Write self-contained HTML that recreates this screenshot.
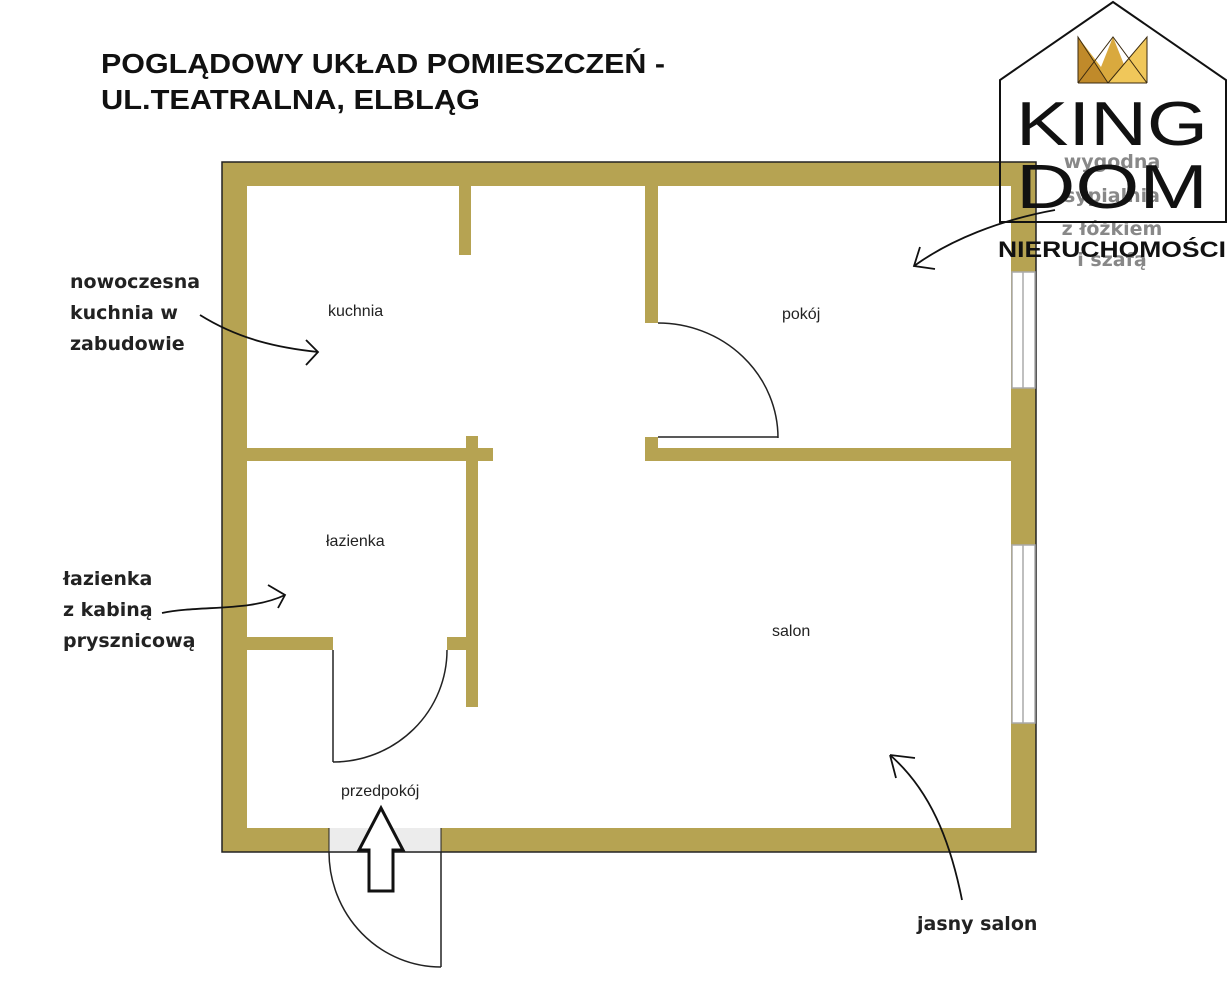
<!DOCTYPE html>
<html><head><meta charset="utf-8"><style>
html,body{margin:0;padding:0;background:#fff;}
svg{display:block;}
</style></head><body>
<svg width="1227" height="1000" viewBox="0 0 1227 1000" xmlns="http://www.w3.org/2000/svg" font-family="Liberation Sans, DejaVu Sans, sans-serif">
<rect width="1227" height="1000" fill="#fff"/>
<!-- title -->
<text x="101" y="73" font-size="28" font-weight="bold" fill="#111" textLength="564" lengthAdjust="spacingAndGlyphs">POGLĄDOWY UKŁAD POMIESZCZEŃ -</text>
<text x="101" y="109" font-size="28" font-weight="bold" fill="#111" textLength="379" lengthAdjust="spacingAndGlyphs">UL.TEATRALNA, ELBLĄG</text>

<g fill="#b6a352">
<rect x="222" y="162" width="814" height="24"/>
<rect x="222" y="162" width="25" height="690"/>
<rect x="1011" y="162" width="25" height="690"/>
<rect x="222" y="828" width="814" height="24"/>
<rect x="459" y="186" width="12" height="69"/>
<rect x="645" y="186" width="13" height="137"/>
<rect x="645" y="437" width="13" height="24"/>
<rect x="645" y="448" width="366" height="13"/>
<rect x="247" y="448" width="246" height="13"/>
<rect x="466" y="436" width="12" height="271"/>
<rect x="247" y="637" width="86" height="13"/>
<rect x="447" y="637" width="19" height="13"/>
</g>
<path d="M222 162 H1036 V852 H222 Z" fill="none" stroke="#222" stroke-width="1.5"/>
<g fill="#fff" stroke="#aaa" stroke-width="1.5">
<rect x="1012" y="272" width="23" height="116"/>
<rect x="1012" y="545" width="23" height="178"/>
</g>
<line x1="1023" y1="272" x2="1023" y2="388" stroke="#aaa" stroke-width="1.5"/>
<line x1="1023" y1="545" x2="1023" y2="723" stroke="#aaa" stroke-width="1.5"/>
<rect x="329" y="828" width="112" height="25" fill="#ececec"/>
<line x1="329" y1="828" x2="329" y2="852" stroke="#222" stroke-width="1"/>
<line x1="441" y1="828" x2="441" y2="852" stroke="#222" stroke-width="1"/>
<line x1="329" y1="852" x2="441" y2="852" stroke="#222" stroke-width="1.5"/>
<g fill="none" stroke="#222" stroke-width="1.5">
<path d="M658 323 A120 115 0 0 1 778 438"/>
<line x1="658" y1="437" x2="778" y2="437"/>
<line x1="333" y1="650" x2="333" y2="762"/>
<path d="M333 762 A114 112 0 0 0 447 650"/>
<line x1="441" y1="852" x2="441" y2="967"/>
<path d="M329 852 A112 115 0 0 0 441 967"/>
</g>
<path d="M381 808 L403 850 L393 850 L393 891 L369 891 L369 850 L359 850 Z" fill="#fff" stroke="#111" stroke-width="3"/>

<g font-size="16" fill="#222">
<text x="328" y="316">kuchnia</text>
<text x="782" y="319">pokój</text>
<text x="326" y="546">łazienka</text>
<text x="772" y="636">salon</text>
<text x="341" y="796">przedpokój</text>
</g>
<g font-weight="bold" fill="#222" font-family="DejaVu Sans, Liberation Sans, sans-serif" font-size="19">
<text x="70" y="288">nowoczesna</text>
<text x="70" y="319">kuchnia w</text>
<text x="70" y="350">zabudowie</text>
<text x="63" y="585">łazienka</text>
<text x="63" y="616">z kabiną</text>
<text x="63" y="647">prysznicową</text>
<text x="917" y="930">jasny salon</text>
</g>
<g font-size="19" font-weight="bold" fill="#888" font-family="DejaVu Sans, Liberation Sans, sans-serif" text-anchor="middle">
<text x="1112" y="168">wygodna</text>
<text x="1112" y="202">sypialnia</text>
<text x="1112" y="235">z łóżkiem</text>
<text x="1112" y="266">i szafą</text>
</g>
<g fill="none" stroke="#111" stroke-width="1.8">
<path d="M200 315 C240 340 280 348 318 352"/>
<path d="M306 340 L318 352 L306 365"/>
<path d="M162 613 C200 605 250 612 285 595"/>
<path d="M268 585 L285 595 L278 608"/>
<path d="M1055 210 C1000 220 950 240 914 266"/>
<path d="M920 247 L914 266 L935 269"/>
<path d="M962 900 C950 840 930 790 890 755"/>
<path d="M890 755 L915 758 M890 755 L896 778"/>
</g>

<path d="M1000 222 V80 L1113 2 L1226 80 V222 Z" fill="none" stroke="#111" stroke-width="2"/>
<g>
<polygon points="1078,83 1078,37 1101,67 1113,37 1125,67 1147,37 1147,83" fill="#d9a93e"/>
<polygon points="1078,83 1078,37 1108,83" fill="#c08a2a"/>
<polygon points="1108,83 1147,37 1147,83" fill="#f0c75a"/>
<path d="M1078 83 L1078 37 L1108 83 M1078 83 L1113 37 L1147 83 M1147 83 L1147 37 L1108 83 M1078 83 H1147" fill="none" stroke="#3a2a10" stroke-width="1"/>
</g>
<text x="1016" y="145" font-size="62" fill="#111" textLength="192" lengthAdjust="spacingAndGlyphs">KING</text>
<text x="1016" y="208" font-size="62" fill="#111" textLength="192" lengthAdjust="spacingAndGlyphs">DOM</text>
<text x="998" y="257" font-size="22" font-weight="bold" fill="#111" textLength="228" lengthAdjust="spacingAndGlyphs">NIERUCHOMOŚCI</text>
</svg>
</body></html>
